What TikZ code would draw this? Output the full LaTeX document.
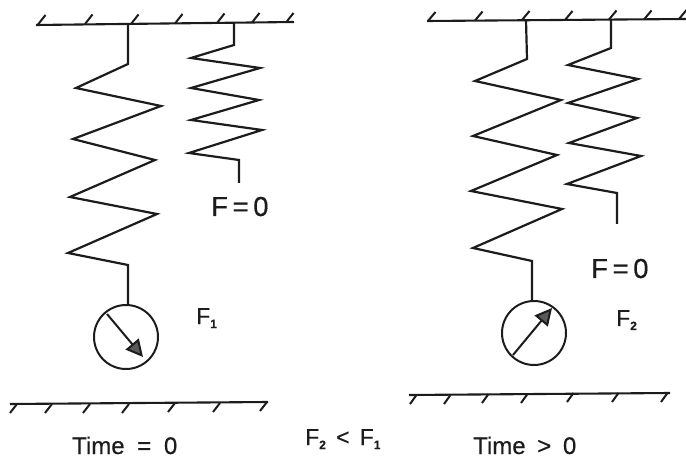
\documentclass[tikz,border=0pt]{standalone}
\usepackage{fontspec}
\setmainfont[FakeBold=0.4]{Liberation Sans}
\usetikzlibrary{arrows.meta}
\definecolor{ink}{HTML}{1C1C1C}
\tikzset{
  spring/.style={draw=ink,line width=2.2pt,line join=miter,miter limit=6},
  bar/.style={draw=ink,line width=2.1pt},
  tick/.style={draw=ink,line width=2pt},
  gauge/.style={circle,draw=ink,line width=2pt,minimum size=64pt,inner sep=0pt},
  needle/.style={draw=ink,line width=2pt,-{Triangle[length=17pt,width=17pt,fill=black!65]}},
  big/.style={font=\fontsize{27.5}{28}\selectfont,text=ink,inner sep=0pt},
  lab/.style={font=\fontsize{24}{24}\selectfont,text=ink,inner sep=0pt,anchor=base west},
  sublab/.style={font=\fontsize{23}{23}\selectfont,text=ink,inner sep=0pt,anchor=base west}
}
\newcommand{\subn}[1]{\raisebox{-4pt}{\fontsize{12}{12}\selectfont\bfseries #1}}
\begin{document}
\begin{tikzpicture}[x=1pt,y=-1pt]
\useasboundingbox (0,0) rectangle (686,465);
% left top support
\draw[bar] (36,25) -- (294,22);
\foreach \x/\y in {38/24.5,85/24,131/24,175/23.5,217/23,252/22.5,286/22.5}
  \draw[tick] (\x,\y) -- ++(7.5,-9.5);
% left spring long
\node[gauge] (gaugeL) at (126,337) {};
\draw[spring] (128,24) -- (128,64) -- (76,88) -- (161,106) -- (73,139) -- (155,160) -- (70,197) -- (157,214) -- (68,253) -- (128,265) -- (128,305);
\draw[needle] (107,314) -- (143,357);
% left spring short
\draw[spring] (234,23) -- (234,45) -- (191,58) -- (260,68) -- (191,88) -- (259,100) -- (191,120) -- (262,130) -- (189,153) -- (239,160) -- (239,183);
\node[big,anchor=base west] (fl) at (211,216) {F\,=\,0};
\node[sublab] (f1) at (196,324) {F\subn{1}};
% left bottom
\draw[bar] (10,404) -- (268,402);
\foreach \x/\y in {10/413,45/413,83/413,122/413,168/412,213/412,260/411}
  \draw[tick] (\x,\y) -- ++(7,-9);
\node[lab] (tl) at (72,454) {Time\hspace{6pt} = \hspace{6pt}0};
\node[sublab] (cmp) at (305,445) {F\subn{2}\, <\, F\subn{1}};
% right top support
\draw[bar] (427,21) -- (686,19);
\foreach \x/\y in {428/21,475/20.5,522/20,565/20,609/19.5,644/19.5,679/19}
  \draw[tick] (\x,\y) -- ++(7.5,-9);
% right spring long
\node[gauge] (gaugeR) at (534,333) {};
\draw[spring] (526,20) -- (527,59) -- (475,81) -- (561,100) -- (473,136) -- (557,155) -- (471,191) -- (562,209) -- (473,248) -- (532,261) -- (532,301);
\draw[needle] (513,355) -- (552,308);
% right spring short
\draw[spring] (611,19) -- (611,48) -- (568,65) -- (638,79) -- (568,103) -- (637,118) -- (569,143) -- (641,156) -- (567,184) -- (617,193) -- (617,224);
\node[big,anchor=base west] (fr) at (591,278) {F\,=\,0};
\node[sublab] (f2) at (616,326) {F\subn{2}};
% right bottom
\draw[bar] (409,395) -- (670,393);
\foreach \x/\y in {410/404,444/404,482/403,521/403,567/402,612/402,661/402}
  \draw[tick] (\x,\y) -- ++(6.5,-9);
\node[lab] (tr) at (473,454) {Time\hspace{5pt} > \hspace{5pt}0};
\end{tikzpicture}
\end{document}
